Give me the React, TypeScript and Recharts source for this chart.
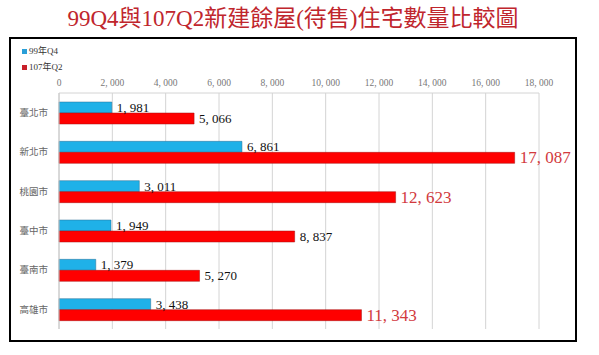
import { BarChart, Bar, XAxis, YAxis, CartesianGrid, LabelList } from 'recharts';

const cities = ['臺北市', '新北市', '桃園市', '臺中市', '臺南市', '高雄市'];
const q4of99 = [1981, 6861, 3011, 1949, 1379, 3438];
const q2of107 = [5066, 17087, 12623, 8837, 5270, 11343];
const xTicks = [0, 2000, 4000, 6000, 8000, 10000, 12000, 14000, 16000, 18000];

const data = cities.map((city, i) => ({ city, a: q4of99[i], b: q2of107[i] }));

const fmt = (v: number) => v.toLocaleString('en-US').replace(',', ', ');

const serif = '"Liberation Serif", "DejaVu Serif", "Noto Sans CJK TC", serif';

function ValueLabel(props: any) {
    const { x, y, width, height, value } = props;
    const big = value > 10000;
    return (
        <text
            x={x + width + 5}
            y={y + height / 2}
            dominantBaseline="central"
            fontFamily={serif}
            fontSize={big ? 17 : 13}
            fill={big ? '#d23a3e' : '#111'}
        >
            {fmt(value)}
        </text>
    );
}

export default function App() {
    return (
        <div style={{ position: 'absolute', left: 0, top: 0, width: 599, height: 355, background: '#fff' }}>
            <div
                style={{
                    position: 'absolute', left: 0, top: 4, width: 586, textAlign: 'center',
                    fontFamily: serif, fontSize: 23, color: '#c0262d', lineHeight: '30px',
                }}
            >
                99Q4與107Q2新建餘屋(待售)住宅數量比較圖
            </div>
            <div
                style={{
                    position: 'absolute', left: 9, top: 37, width: 564, height: 301,
                    border: '2px solid #000',
                }}
            />
            <div style={{ position: 'absolute', left: 22, top: 43, fontFamily: serif, fontSize: 9, color: '#333', lineHeight: '16px' }}>
                <div><span style={{ display: 'inline-block', width: 5, height: 5, background: '#2a9fd8', marginRight: 2 }} />99年Q4</div>
                <div><span style={{ display: 'inline-block', width: 5, height: 5, background: '#c8202a', marginRight: 2 }} />107年Q2</div>
            </div>
            <div style={{ position: 'absolute', left: 0, top: 0 }}>
                <BarChart
                    width={599}
                    height={355}
                    data={data}
                    layout="vertical"
                    barSize={11}
                    barGap={0}
                    margin={{ top: 73, right: 60, bottom: 26, left: 0 }}
                >
                    <CartesianGrid horizontal={false} stroke="#d4d4d4" />
                    <XAxis
                        type="number"
                        orientation="top"
                        domain={[0, 18000]}
                        ticks={xTicks}
                        tickFormatter={fmt}
                        height={20}
                        tickSize={0}
                        tickMargin={7}
                        tick={{ fontSize: 9.5, fill: '#777', fontFamily: serif }}
                        axisLine={{ stroke: '#d4d4d4' }}
                        interval={0}
                    />
                    <YAxis
                        type="category"
                        dataKey="city"
                        width={59}
                        tickSize={0}
                        tickMargin={11}
                        tick={{ fontSize: 9.5, fill: '#666', fontFamily: serif }}
                        axisLine={{ stroke: '#c8c8c8' }}
                    />
                    <Bar dataKey="a" fill="#1fb1e8" stroke="#2a6f95" strokeWidth={0.5} isAnimationActive={false}>
                        <LabelList dataKey="a" content={ValueLabel} />
                    </Bar>
                    <Bar dataKey="b" fill="#ff0000" stroke="#a31010" strokeWidth={0.5} isAnimationActive={false}>
                        <LabelList dataKey="b" content={ValueLabel} />
                    </Bar>
                </BarChart>
            </div>
        </div>
    );
}
